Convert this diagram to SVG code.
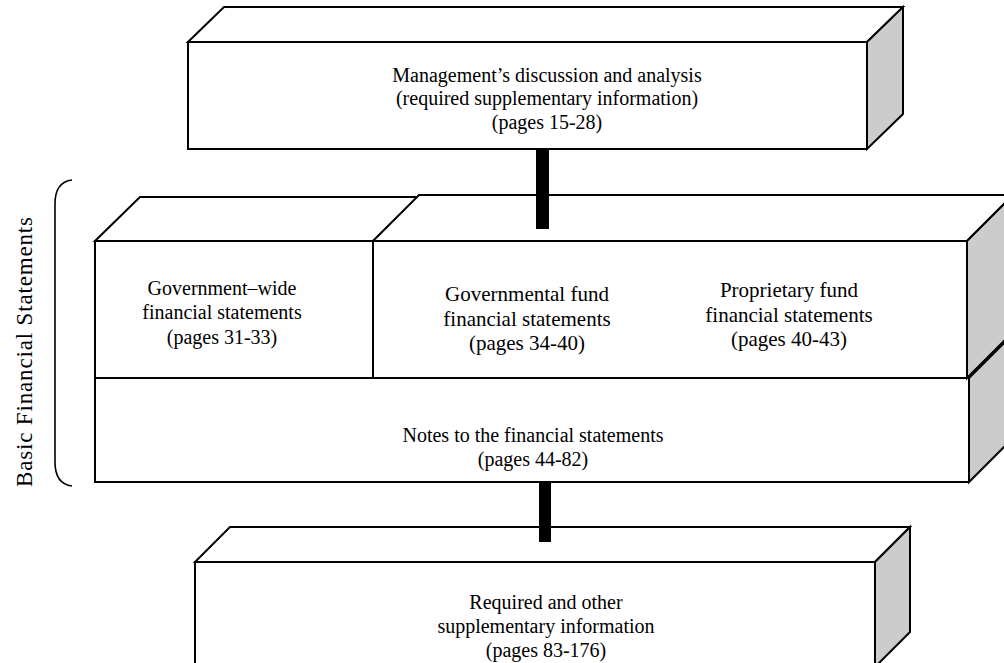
<svg xmlns="http://www.w3.org/2000/svg" width="1004" height="663" viewBox="0 0 1004 663">
<style>
.face{fill:#ffffff;stroke:#000000;stroke-width:2;stroke-linejoin:miter}
.side{fill:#cccccc;stroke:#000000;stroke-width:2;stroke-linejoin:miter}
.t{font-family:"Liberation Serif","Times New Roman",serif;font-size:20px;fill:#000000;text-anchor:middle}
.tf{font-family:"Liberation Serif","Times New Roman",serif;font-size:21px;fill:#000000;text-anchor:middle}
.bar{fill:#000000}
</style>
<rect width="1004" height="663" fill="#ffffff"/>
<g id="label-basic">
<path d="M72,180 Q55,182 55,204 L55,462 Q55,484 72,486" fill="none" stroke="#000000" stroke-width="1.6"/>
<text class="t" transform="translate(32,352) rotate(-90)" style="font-size:23px" textLength="270" lengthAdjust="spacing">Basic Financial Statements</text>
</g>
<g id="notes">
<polygon class="side" points="969,378 1014,333 1014,437 969,482"/>
<rect class="face" x="95" y="378" width="874" height="104"/>
<text class="t" x="533" y="442">Notes to the financial statements</text>
<text class="t" x="533" y="466">(pages 44-82)</text>
</g>
<g id="gov-wide">
<polygon class="face" points="95,241 140,197 419,197 373,241"/>
<rect class="face" x="95" y="241" width="278" height="137"/>
<text class="t" x="222" y="295">Government–wide</text>
<text class="t" x="222" y="319">financial statements</text>
<text class="t" x="222" y="344">(pages 31-33)</text>
</g>
<g id="fund">
<polygon class="face" points="373,241 419,195 1013,195 967,241"/>
<polygon class="side" points="967,241 1013,195 1013,332 967,378"/>
<rect class="face" x="373" y="241" width="594" height="137"/>
<text class="tf" x="527" y="301">Governmental fund</text>
<text class="tf" x="527" y="326">financial statements</text>
<text class="tf" x="527" y="350">(pages 34-40)</text>
<text class="tf" x="789" y="297">Proprietary fund</text>
<text class="tf" x="789" y="322">financial statements</text>
<text class="tf" x="789" y="346">(pages 40-43)</text>
</g>
<g id="mda">
<polygon class="face" points="188,42 224,7 903,7 867,42"/>
<polygon class="side" points="867,42 903,7 903,114 867,149"/>
<rect class="face" x="188" y="42" width="679" height="107"/>
<text class="t" x="547" y="82">Management’s discussion and analysis</text>
<text class="t" x="547" y="105">(required supplementary information)</text>
<text class="t" x="547" y="129">(pages 15-28)</text>
</g>
<g id="rsi">
<polygon class="face" points="195,562 230,527 910,527 875,562"/>
<polygon class="side" points="875,562 910,527 910,632 875,667"/>
<rect class="face" x="195" y="562" width="680" height="105"/>
<text class="t" x="546" y="609">Required and other</text>
<text class="t" x="546" y="633">supplementary information</text>
<text class="t" x="546" y="657">(pages 83-176)</text>
</g>
<g id="connectors">
<rect class="bar" x="536" y="150" width="13" height="79"/>
<rect class="bar" x="539" y="482" width="12" height="60"/>
</g>
</svg>
